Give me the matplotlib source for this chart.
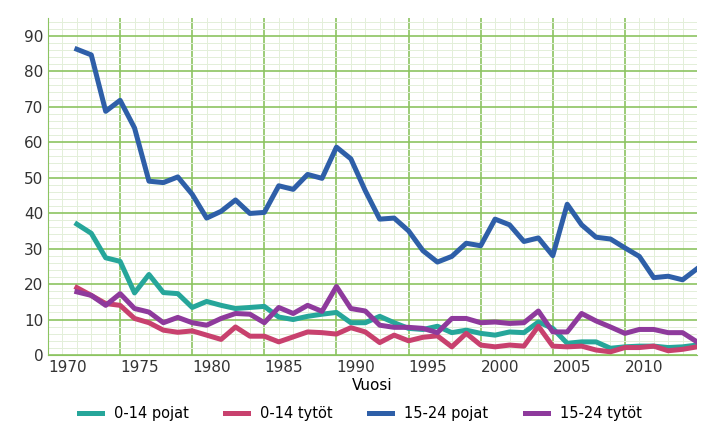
import matplotlib
matplotlib.use("Agg")
import matplotlib.pyplot as plt
from matplotlib.ticker import MultipleLocator

years = list(range(1972, 2016))
pojat_0_14 = [36.9,34.3,27.4,26.4,17.5,22.7,17.6,17.3,13.4,15.1,14,13.1,13.4,13.7,10.7,10,10.9,11.5,12,9.1,9.1,10.9,
              9.1,7.5,7.2,8.1,6.3,7,6.1,5.6,6.5,6.3,9.3,7.5,3.3,3.7,3.7,1.9,2.3,2.5,2.5,2.1,2.3,2.8]
tytot_0_14 = [19,16.8,14.5,14,10.3,9.1,7,6.4,6.8,5.6,4.4,7.9,5.3,5.3,3.7,5.1,6.5,6.3,5.9,7.7,6.5,3.5,
              5.6,4,5,5.4,2.3,6.1,2.8,2.3,2.8,2.5,8.1,2.5,2.3,2.5,1.4,0.9,2.1,2.1,2.5,1.2,1.6,2.3]
pojat_15_24 = [86.2,84.6,68.7,71.8,64,49,48.6,50.2,45.3,38.6,40.5,43.7,39.9,40.2,47.7,46.7,50.9,49.8,58.6,55.3,46.3,38.3,
               38.6,35,29.4,26.2,27.8,31.5,30.8,38.3,36.7,32,33,28,42.5,36.7,33.2,32.7,30.2,27.8,21.8,22.2,21.2,24.3]
tytot_15_24 = [17.8,16.8,14,17.3,13.1,12.1,9.1,10.6,9.1,8.4,10.3,11.7,11.5,9.1,13.4,11.7,14,12.3,19.3,13.1,12.4,8.4,
               7.8,7.8,7.5,6.3,10.3,10.3,9.1,9.3,8.9,9.1,12.4,6.5,6.5,11.7,9.6,7.9,6.1,7.2,7.2,6.3,6.3,3.7]
labels = ["0-14 pojat", "0-14 tytöt", "15-24 pojat", "15-24 tytöt"]
tick_years = [1970, 1975, 1980, 1985, 1990, 1995, 2000, 2005, 2010]
colors = ["#26a69a", "#c8416e", "#2e5fa8", "#8e3a9c"]

fig = plt.figure(figsize=(7.2, 4.34), dpi=100)
ax = fig.add_axes([48/720, 1-355/434, (697-48)/720, (355-18)/434])
for vals, lab, c in zip([pojat_0_14, tytot_0_14, pojat_15_24, tytot_15_24], labels, colors):
    ax.plot(years, vals, color=c, lw=3.6, label=lab, solid_joinstyle="round", zorder=3)
ax.set_xlim(1970, 2015)
ax.set_ylim(0, 95)
ax.xaxis.set_minor_locator(MultipleLocator(1))
ax.yaxis.set_major_locator(MultipleLocator(10))
ax.yaxis.set_minor_locator(MultipleLocator(2))
ax.set_xticks(tick_years)
ax.set_xticklabels([str(y) for y in tick_years], ha="left")
ax.grid(which="major", color="#8cc461", lw=1.2)
ax.grid(which="minor", color="#e3efd9", lw=0.7)
ax.set_axisbelow(True)
for s in ["top", "right"]:
    ax.spines[s].set_visible(False)
ax.spines["left"].set_color("#8cc461")
ax.spines["bottom"].set_color("#8cc461")
ax.tick_params(which="both", length=0, labelsize=11, colors="#333333")
ax.set_xlabel("Vuosi", fontsize=11, labelpad=2)
fig.legend(loc="lower center", ncol=4, frameon=False, fontsize=10.5, bbox_to_anchor=(0.5, 0.0),
           handlelength=1.6, columnspacing=2.5)
fig.savefig("out.png", dpi=100)
